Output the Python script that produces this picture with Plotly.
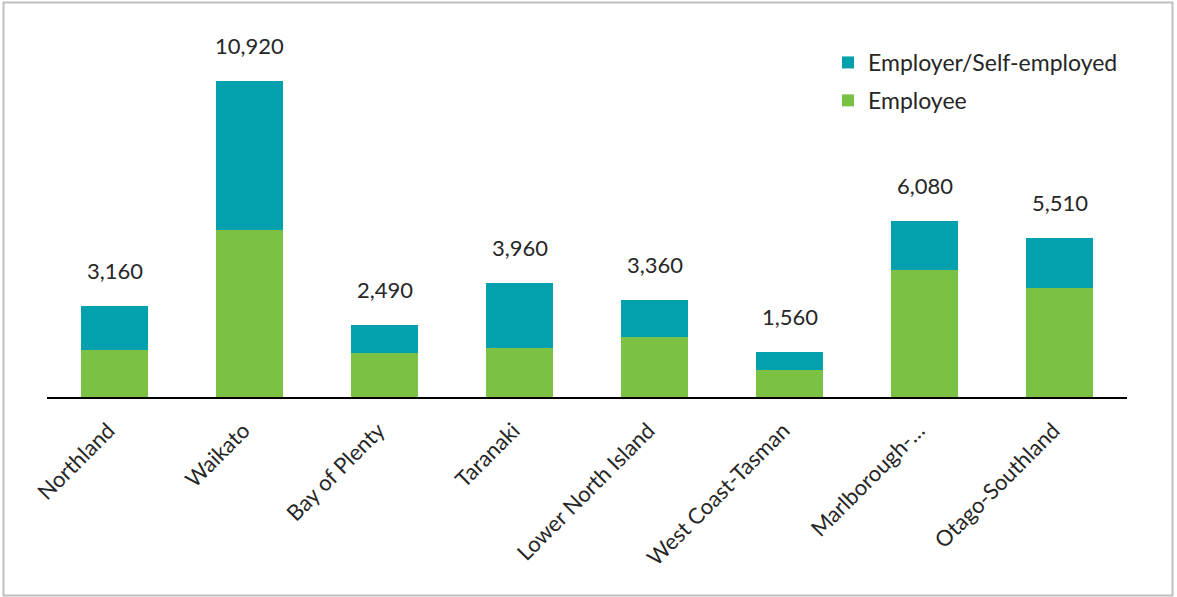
import plotly.graph_objects as go

regions = ["Northland", "Waikato", "Bay of Plenty", "Taranaki",
           "Lower North Island", "West Coast-Tasman", "Marlborough-…",
           "Otago-Southland"]
employee = [1620, 5770, 1520, 1680, 2070, 920, 4380, 3780]
employer_self = [1540, 5150, 970, 2280, 1290, 640, 1700, 1730]
totals = [3160, 10920, 2490, 3960, 3360, 1560, 6080, 5510]

TEAL = "#03A1AD"
GREEN = "#7BC143"
FONT = "Lato"
TXT = "#262626"

W, H = 1177, 597
ML, MR, MT, MB = 47, 50, 20, 200
pw, ph = W - ML - MR, H - MT - MB


def px_x(p):
    return (p - ML) / pw


def px_y(p):
    return (H - MB - p) / ph


fig = go.Figure()
fig.add_trace(go.Bar(x=regions, y=employee, name="Employee",
                     marker=dict(color=GREEN, line=dict(width=0)),
                     legendgroup="b", legendrank=2))
fig.add_trace(go.Bar(x=regions, y=employer_self, name="Employer/Self-employed",
                     marker=dict(color=TEAL, line=dict(width=0)),
                     legendgroup="a", legendrank=1))

for r, t in zip(regions, totals):
    fig.add_annotation(x=r, y=t, text=f"{t:,}", showarrow=False,
                       yanchor="bottom", yshift=20,
                       font=dict(family=FONT, size=22, color=TXT))

# outer border of the chart area
fig.add_shape(type="rect", xref="paper", yref="paper",
              x0=px_x(3.5), x1=px_x(1172.5), y0=px_y(595.5), y1=px_y(2.5),
              line=dict(color="#BFBFBF", width=2), fillcolor="rgba(0,0,0,0)",
              layer="below")

fig.update_layout(
    width=W, height=H,
    margin=dict(l=ML, r=MR, t=MT, b=MB, pad=0),
    barmode="stack", bargap=0.5,
    plot_bgcolor="white", paper_bgcolor="white",
    font=dict(family=FONT, size=21, color=TXT),
    showlegend=True,
    legend=dict(x=px_x(828), xanchor="left", y=px_y(41), yanchor="top",
                traceorder="grouped", tracegroupgap=5,
                font=dict(family=FONT, size=23, color=TXT),
                bgcolor="rgba(0,0,0,0)", itemwidth=30),
    xaxis=dict(showline=True, linecolor="black", linewidth=2,
               tickangle=-45, ticks="", showgrid=False,
               ticklabelstandoff=10, ticklabelshift=-6,
               tickfont=dict(family=FONT, size=22, color=TXT)),
    yaxis=dict(range=[0, 13040], visible=False, showgrid=False,
               zeroline=False),
)

fig.write_html("out.html")
